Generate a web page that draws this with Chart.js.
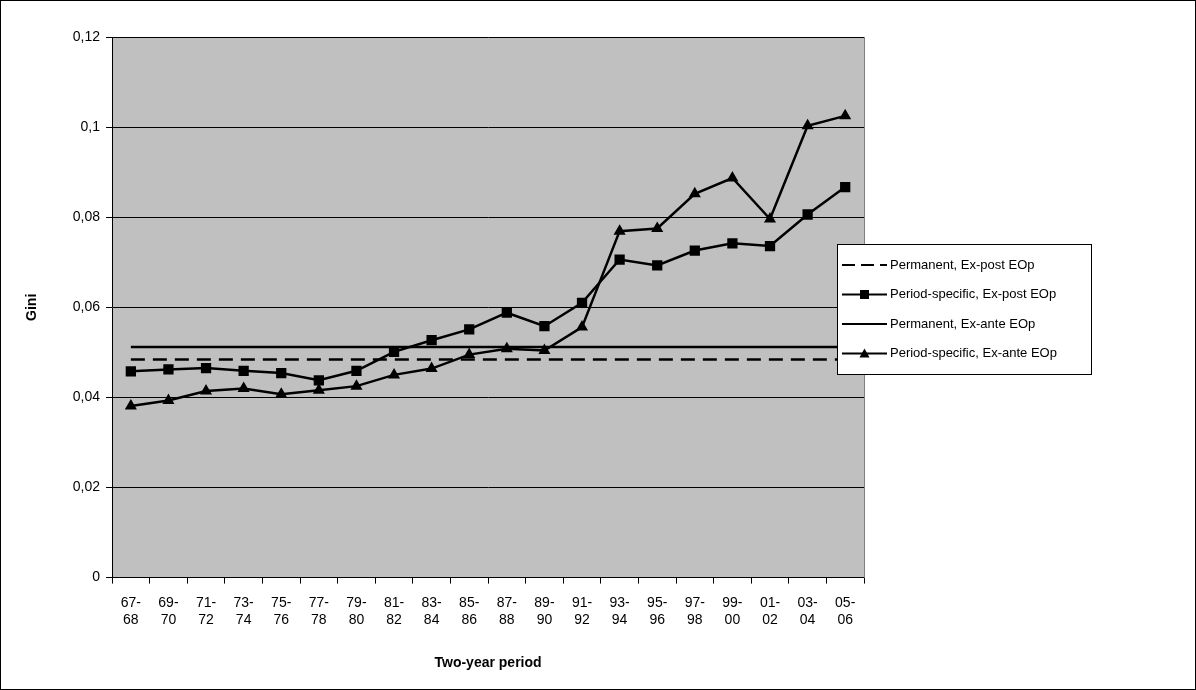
<!DOCTYPE html>
<html><head><meta charset="utf-8">
<script src="https://cdn.jsdelivr.net/npm/chart.js@4"></script>
<style>html,body{margin:0;padding:0;background:#fff}#w{width:1196px;height:690px;position:relative}</style>
</head><body><div id="w"><canvas id="c"></canvas></div>
<script>
const categories=["67-68","69-70","71-72","73-74","75-76","77-78","79-80","81-82","83-84","85-86","87-88","89-90","91-92","93-94","95-96","97-98","99-00","01-02","03-04","05-06"];
const permExPost=0.0484;
const permExAnte=0.0512;
const periodExPost=[0.0458,0.0462,0.0465,0.0459,0.0454,0.0438,0.0459,0.0501,0.0527,0.0551,0.0588,0.0558,0.0610,0.0706,0.0693,0.0726,0.0742,0.0736,0.0806,0.0867];
const periodExAnte=[0.0381,0.0393,0.0414,0.0420,0.0407,0.0416,0.0425,0.0450,0.0464,0.0495,0.0508,0.0504,0.0556,0.0769,0.0775,0.0852,0.0887,0.0796,0.1003,0.1025];
const yTicks=[0,0.02,0.04,0.06,0.08,0.1,0.12];
const FONT="'Liberation Sans', Arial, sans-serif";
const labels=categories.map(c=>{const p=c.split('-');return [p[0]+'-',p[1]];});
const bg={id:'bg',beforeDraw(ch){const a=ch.chartArea,x=ch.ctx;x.save();x.fillStyle='#c0c0c0';x.fillRect(a.left,a.top,a.right-a.left,a.bottom-a.top);x.restore();},
afterDraw(ch){const x=ch.ctx;x.save();x.strokeStyle='#000';x.lineWidth=1;x.strokeRect(0.5,0.5,1195,689);
 const a=ch.chartArea;x.strokeStyle='#808080';x.strokeRect(Math.round(a.right)+0.5,a.top,0,a.bottom-a.top);
 const L=837,T=244,W=254,H=130;x.fillStyle='#fff';x.fillRect(L,T,W,H);x.strokeStyle='#000';x.strokeRect(L+0.5,T+0.5,W,H);
 x.font='13px '+FONT;x.textBaseline='middle';
 ch.data.datasets.forEach((d,i)=>{const y=T+21+i*29.5;x.strokeStyle='#000';x.lineWidth=2;
  if(d.borderDash){[[5,18],[24,37],[43,50]].forEach(s=>{x.beginPath();x.moveTo(L+s[0],y);x.lineTo(L+s[1],y);x.stroke();});}
  else{x.beginPath();x.moveTo(L+5,y);x.lineTo(L+50,y);x.stroke();}
  x.fillStyle='#000';
  if(d.pointStyle==='rect'){x.fillRect(L+23,y-4.5,9,9);}
  else if(d.pointStyle==='triangle'){x.beginPath();x.moveTo(L+27.5,y-5);x.lineTo(L+32.5,y+4);x.lineTo(L+22.5,y+4);x.closePath();x.fill();}
  x.fillText(d.label,L+53,y);});
 x.restore();}};
new Chart(document.getElementById('c'),{type:'line',
data:{labels,datasets:[
{label:'Permanent, Ex-post EOp',data:categories.map(()=>permExPost),borderColor:'#000',borderWidth:2.5,borderDash:[14,8],pointRadius:0},
{label:'Period-specific, Ex-post EOp',data:periodExPost,borderColor:'#000',borderWidth:2.5,pointStyle:'rect',pointRadius:5.5,pointBackgroundColor:'#000',pointBorderColor:'#000'},
{label:'Permanent, Ex-ante EOp',data:categories.map(()=>permExAnte),borderColor:'#000',borderWidth:2.5,pointRadius:0},
{label:'Period-specific, Ex-ante EOp',data:periodExAnte,borderColor:'#000',borderWidth:2.5,pointStyle:'triangle',pointRadius:4.5,pointBackgroundColor:'#000',pointBorderColor:'#000'}]},
options:{responsive:true,maintainAspectRatio:false,animation:false,
layout:{padding:{top:37,right:332,left:20,bottom:14}},
plugins:{legend:{display:false},tooltip:{enabled:false}},
scales:{
x:{offset:true,grid:{display:true,drawOnChartArea:false,color:'#000',tickLength:6,offset:true},border:{color:'#000'},
 ticks:{color:'#000',font:{family:FONT,size:14},maxRotation:0,autoSkip:false,padding:11},
 title:{display:true,text:'Two-year period',color:'#000',font:{family:FONT,size:14,weight:'bold'},padding:{top:16}}},
y:{min:0,max:0.12,afterBuildTicks(ax){ax.ticks=yTicks.map(v=>({value:v}));},
 grid:{color:'#000',tickLength:6},border:{color:'#000'},
 ticks:{color:'#000',font:{family:FONT,size:14},callback:v=>String(v).replace('.',','),padding:6},
 title:{display:true,text:'Gini',color:'#000',font:{family:FONT,size:14,weight:'bold'},padding:{bottom:26}}}}},
plugins:[bg]});
</script></body></html>
